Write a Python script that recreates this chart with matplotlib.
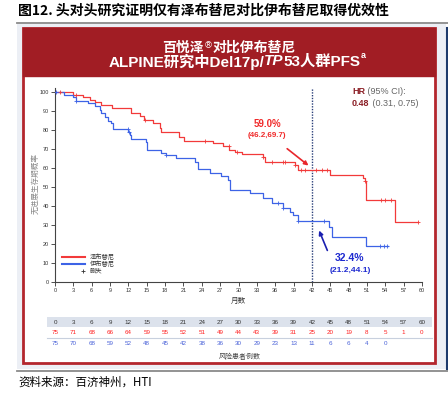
import matplotlib
matplotlib.use('Agg')
import matplotlib.pyplot as plt
from matplotlib.patches import Rectangle
from matplotlib.lines import Line2D
import matplotlib.transforms as mtransforms

plt.rcParams['font.family'] = ['Liberation Sans', 'Noto Sans CJK SC', 'DejaVu Sans']

# KM steps (months, % progression-free)
zanu_t = [0, 3.0, 4.5, 5.7, 6.5, 7.6, 9.3, 12.5, 13.9, 14.5, 16.1, 17.2, 17.4, 20.2, 21.1,
          25.8, 27.4, 28.5, 29.4, 30.5, 34.0, 34.3, 39.2, 39.8, 44.9, 50.4, 50.6, 50.9, 55.6, 59.3]
zanu_s = [100, 98.7, 97.3, 96.0, 94.7, 93.3, 92.0, 88.9, 87.5, 85.4, 84.0, 81.4, 78.9, 76.6, 74.5,
          73.1, 71.7, 69.6, 68.5, 67.3, 65.7, 63.5, 61.7, 59.0, 56.4, 54.6, 53.2, 43.2, 31.8, 31.8]
zanu_cens = [0.8, 3.5, 14.7, 24.6, 28.4, 29.7, 34.0, 35.4, 37.3, 37.6, 39.3, 40.2, 40.8,
             42.6, 43.6, 44.4, 50.6, 53.3, 53.9, 55.0, 59.3]

ibru_t = [0, 1.4, 3.0, 3.5, 5.4, 6.5, 7.3, 7.6, 8.2, 8.6, 9.2, 9.5, 12.0, 12.2, 12.5, 14.9, 15.0,
          17.4, 18.2, 19.8, 22.9, 23.3, 25.3, 27.2, 28.3, 28.6, 31.9, 34.0, 35.4, 37.3, 38.4, 38.9,
          39.8, 44.8, 45.3, 50.9, 54.5]
ibru_s = [100, 98.7, 97.3, 95.4, 94.2, 93.0, 90.7, 88.9, 86.8, 85.1, 84.0, 80.7, 79.3, 77.5, 75.2,
          73.8, 69.6, 68.2, 66.8, 65.2, 63.4, 59.4, 57.3, 56.1, 53.8, 48.5, 46.8, 44.2, 41.9, 38.8,
          37.1, 35.3, 32.4, 29.2, 23.5, 19.0, 19.0]
ibru_cens = [0.2, 3.5, 11.9, 12.1, 18.2, 36.5, 37.3, 39.8, 43.9, 53.2, 53.8, 54.3]

risk_months = list(range(0, 61, 3))
risk_zanu = [75, 71, 68, 66, 64, 59, 55, 52, 51, 49, 44, 43, 39, 31, 25, 20, 19, 8, 5, 1, 0]
risk_ibru = [75, 70, 68, 59, 52, 48, 45, 42, 38, 36, 30, 29, 23, 13, 11, 6, 6, 4, 0]

RED = '#f23a3a'
BLUE = '#3d63e6'
DARKRED = '#a11d24'

W, H = 448, 396


def fx(x):
    return x / W


def fy(y):
    return 1 - y / H


def step_at(ts, ss, t):
    val = ss[0]
    for a, b in zip(ts, ss):
        if a <= t:
            val = b
    return val


def text_run(fig, x, y, pieces, ha='center', va='center'):
    """Lays several differently styled pieces of text side by side."""
    renderer = fig.canvas.get_renderer()
    objs = []
    for s, kw in pieces:
        dy = kw.pop('dy', 0)
        t = fig.text(0, fy(y + dy), s, va=va, ha='left', zorder=6, **kw)
        objs.append(t)
    widths = [o.get_window_extent(renderer).width for o in objs]
    total = sum(widths)
    start = x - total / 2 if ha == 'center' else x
    for o, w in zip(objs, widths):
        o.set_x(fx(start))
        start += w


fig = plt.figure(figsize=(4.48, 3.96), dpi=100)
fig.patch.set_facecolor('white')

# title and rules
fig.text(fx(18), fy(11), '图12. 头对头研究证明仅有泽布替尼对比伊布替尼取得优效性',
         fontsize=10, fontweight='bold', va='center', ha='left',
         family=['Noto Sans CJK SC'])
fig.add_artist(Rectangle((fx(17), fy(369)), fx(429), 345 / H, facecolor='#eceff5',
                         edgecolor='none', transform=fig.transFigure, zorder=0))
fig.add_artist(Line2D([fx(17), fx(448)], [fy(23), fy(23)], color='#8a8a8a', lw=1.3))
fig.add_artist(Line2D([fx(17), fx(448)], [fy(371), fy(371)], color='#8a8a8a', lw=1.3))
fig.add_artist(Line2D([fx(446.5), fx(446.5)], [fy(28), fy(369)], color='#1d3a6c', lw=1.5))

# red frame and header
fig.add_artist(Rectangle((fx(23), fy(363)), fx(412), 335 / H, facecolor='white',
                         edgecolor='#b3262d', lw=2, transform=fig.transFigure, zorder=1))
fig.add_artist(Rectangle((fx(23), fy(76)), fx(412), 48 / H, facecolor=DARKRED,
                         edgecolor=DARKRED, lw=1, transform=fig.transFigure, zorder=1))
fig.canvas.draw()
text_run(fig, 229, 52, [
    ('百悦泽', dict(fontsize=10, color='white', fontweight='bold', family=['Noto Sans CJK SC'])),
    ('®', dict(fontsize=6.5, color='white', dy=-4, family=['DejaVu Sans'])),
    ('对比伊布替尼', dict(fontsize=10, color='white', fontweight='bold', family=['Noto Sans CJK SC'])),
], va='baseline')
text_run(fig, 237, 54, [
    ('ALPINE研究中Del17p/', dict(fontsize=11, color='white', fontweight='bold')),
    ('TP', dict(fontsize=11, color='white', fontweight='bold', style='italic')),
    ('53人群PFS', dict(fontsize=11, color='white', fontweight='bold')),
    ('a', dict(fontsize=6.5, color='white', fontweight='bold', dy=-3)),
], va='top')

# KM plot
ax = fig.add_axes([fx(55), fy(282), (422 - 55) / W, (282 - 88) / H])
ax.set_zorder(5)
ax.set_facecolor('none')
ax.step(zanu_t, zanu_s, where='post', color=RED, lw=0.9, zorder=3)
ax.step(ibru_t, ibru_s, where='post', color=BLUE, lw=0.9, zorder=3)
ax.plot(zanu_cens, [step_at(zanu_t, zanu_s, t) for t in zanu_cens], '+', color=RED,
        ms=3, mew=0.6, zorder=4)
ax.plot(ibru_cens, [step_at(ibru_t, ibru_s, t) for t in ibru_cens], '+', color=BLUE,
        ms=3, mew=0.6, zorder=4)
ax.axvline(42, color='#2a3f7a', lw=1.0, ls=(0, (1, 1)), zorder=2)

ax.set_xlim(0, 60)
ax.set_ylim(0, 102.3)
ax.set_xticks(risk_months)
ax.set_yticks(range(0, 101, 10))
ax.tick_params(labelsize=4, length=3, width=0.6, pad=1.5, colors='#333333')
for s in ['top', 'right']:
    ax.spines[s].set_visible(False)
for s in ['left', 'bottom']:
    ax.spines[s].set_color('#444444')
    ax.spines[s].set_linewidth(0.8)
ax.set_xlabel('月数', fontsize=5.5, color='#333333', labelpad=3,
              family=['Noto Sans CJK SC'])
fig.text(fx(36), fy(183), '无进展生存期概率', rotation=90, fontsize=5.5, color='#888888',
         va='center', ha='center', family=['Noto Sans CJK SC'], zorder=6)

# legend
fig.add_artist(Line2D([fx(62), fx(85)], [fy(257), fy(257)], color=RED, lw=1.5, zorder=6))
fig.add_artist(Line2D([fx(62), fx(85)], [fy(264), fy(264)], color=BLUE, lw=1.5, zorder=6))
fig.add_artist(Line2D([fx(83)], [fy(271)], marker='+', color='#333333', ms=3, mew=0.6, zorder=6))
for yy, lab in zip([257, 264, 271], ['泽布替尼', '伊布替尼', '删失']):
    fig.text(fx(90), fy(yy), lab, fontsize=4.5, va='center', ha='left', color='#333333',
             family=['Noto Sans CJK SC'], zorder=6)

# annotations
ax.annotate('', xy=(41.8, 60.5), xytext=(37.6, 71.2),
            arrowprops=dict(arrowstyle='-|>', color='#e8262b', lw=1.2, mutation_scale=6))
ax.annotate('', xy=(43.0, 28.5), xytext=(44.7, 15.3),
            arrowprops=dict(arrowstyle='-|>', color='#1a1fb0', lw=1.2, mutation_scale=6))
ax.text(34.8, 83.2, '59.0%', color='#f02a2a', fontsize=7, fontweight='bold', ha='center', va='center')
ax.text(34.6, 77.4, '(46.2,69.7)', color='#f02a2a', fontsize=5.8, fontweight='bold', ha='center', va='center')
ax.text(48.2, 12.6, '32.4%', color='#1e2ad0', fontsize=7.5, fontweight='bold', ha='center', va='center')
ax.text(48.2, 6.3, '(21.2,44.1)', color='#1e2ad0', fontsize=6, fontweight='bold', ha='center', va='center')

fig.canvas.draw()
text_run(fig, 352, 92, [
    ('HR', dict(fontsize=6.5, color='#8b1f26', fontweight='bold')),
    (' (95% CI):', dict(fontsize=6.5, color='#666666')),
], ha='left')
text_run(fig, 352, 103, [
    ('0.48', dict(fontsize=6.5, color='#8b1f26', fontweight='bold')),
    (' (0.31, 0.75)', dict(fontsize=6.5, color='#666666')),
], ha='left')

# risk table
fig.add_artist(Rectangle((fx(47), fy(327)), fx(385), 10 / H, facecolor='#dce2ec',
                         edgecolor='none', transform=fig.transFigure, zorder=2))
fig.add_artist(Line2D([fx(47), fx(432)], [fy(337.5), fy(337.5)], color='#c8d0de', lw=0.8, zorder=2))
tr = mtransforms.blended_transform_factory(ax.transData, fig.transFigure)
for m in risk_months:
    fig.text(m, fy(322), str(m), transform=tr, fontsize=4.5, color='#333333',
             ha='center', va='center', zorder=6)
for m, n in zip(risk_months, risk_zanu):
    fig.text(m, fy(332.5), str(n), transform=tr, fontsize=4.5, color='#ff1f1f',
             ha='center', va='center', zorder=6)
for m, n in zip(risk_months, risk_ibru):
    fig.text(m, fy(343.5), str(n), transform=tr, fontsize=4.5, color='#4a62d8',
             ha='center', va='center', zorder=6)
fig.text(fx(240), fy(357), '风险患者例数', fontsize=5, color='#444444', ha='center', va='center',
         family=['Noto Sans CJK SC'], zorder=6)

fig.text(fx(18), fy(382), '资料来源：百济神州，HTI', fontsize=8.3, va='center', ha='left',
         family=['Noto Sans CJK SC', 'Liberation Sans'])

fig.savefig('out.png', dpi=100)
